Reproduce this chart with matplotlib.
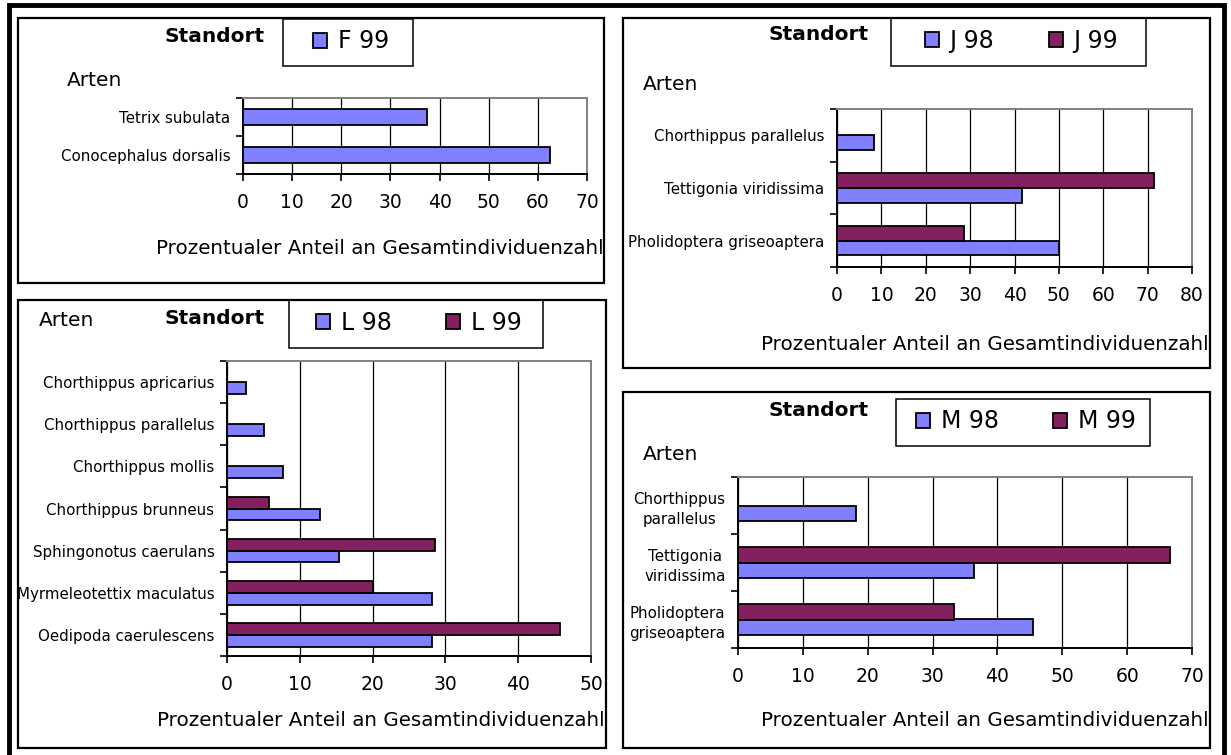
import matplotlib.pyplot as plt
import numpy as np
from matplotlib.patches import Rectangle
from matplotlib.transforms import Bbox, TransformedBbox

plt.rcParams['font.family'] = 'DejaVu Sans'

# species listed bottom -> top, values in % of all individuals at the site
f_arten = ["Conocephalus dorsalis", "Tetrix subulata"]
f_99 = [62.5, 37.5]

j_arten = ["Pholidoptera griseoaptera", "Tettigonia viridissima", "Chorthippus parallelus"]
j_98 = [50.0, 41.67, 8.33]
j_99 = [28.57, 71.43, 0.0]

l_arten = ["Oedipoda caerulescens", "Myrmeleotettix maculatus", "Sphingonotus caerulans",
           "Chorthippus brunneus", "Chorthippus mollis", "Chorthippus parallelus",
           "Chorthippus apricarius"]
l_98 = [28.21, 28.21, 15.38, 12.82, 7.69, 5.13, 2.56]
l_99 = [45.71, 20.0, 28.57, 5.71, 0.0, 0.0, 0.0]

m_arten = ["Pholidoptera\ngriseoaptera", "Tettigonia\nviridissima", "Chorthippus\nparallelus"]
m_98 = [45.45, 36.36, 18.18]
m_99 = [33.33, 66.67, 0.0]

BLUE = '#8080ff'
MAROON = '#842060'
XLABEL = "Prozentualer Anteil an Gesamtindividuenzahl"

W, H = 1231, 755
fig = plt.figure(figsize=(W / 100, H / 100), dpi=100)


def fx(x):
    return x / W


def fy(y):
    return 1 - y / H


def rect_px(l, t, r, b, lw, z=5):
    fig.patches.append(Rectangle((fx(l), fy(b)), (r - l) / W, (b - t) / H,
                                 transform=fig.transFigure, fill=False,
                                 edgecolor='black', linewidth=lw, zorder=z))


def panel(frame, axbox, arten, series, names, xmax, legbox, std_x, std_y,
          arten_xy, xl_xy):
    l, t, r, b = frame
    rect_px(l, t, r, b, 1.6)

    al, at, ar, ab = axbox
    ax = fig.add_axes([fx(al), fy(ab), (ar - al) / W, (ab - at) / H])
    y = np.arange(len(arten))
    colors = [BLUE, MAROON]
    h = 0.4 if len(series) == 1 else 0.28
    handles = []
    for k, vals in enumerate(series):
        off = 0 if len(series) == 1 else (k - 0.5) * h
        bars = ax.barh(y + off, vals, height=h, color=colors[k],
                       edgecolor='black', linewidth=1.3, zorder=3)
        handles.append(bars)

    ax.set_xlim(0, xmax)
    ax.set_ylim(-0.5, len(arten) - 0.5)
    ax.set_xticks(np.arange(0, xmax + 1, 10))
    ax.set_yticks(y)
    ax.set_yticklabels(arten, fontsize=10.8)
    ax.set_yticks(np.arange(len(arten) + 1) - 0.5, minor=True)
    ax.tick_params(axis='y', which='major', length=0, pad=9)
    ax.tick_params(axis='y', which='minor', length=5, width=1.2, direction='out')
    ax.tick_params(axis='x', length=5, width=1.2, direction='out', pad=8.5,
                   labelsize=13.5)
    for lbl in ax.get_yticklabels():
        lbl.set_multialignment('center')
        lbl.set_linespacing(1.45)
    ax.grid(axis='x', color='black', linewidth=0.9, zorder=1)
    ax.set_axisbelow(True)
    for s in ('top', 'right'):
        ax.spines[s].set_color('#808080')
        ax.spines[s].set_linewidth(1.4)
    for s in ('left', 'bottom'):
        ax.spines[s].set_color('black')
        ax.spines[s].set_linewidth(1.4)

    # legend box with the site names
    ll, lt, lr, lb = legbox
    rect_px(ll, lt, lr, lb, 1.1, z=6)
    fig.legend(handles, names, loc='center',
               bbox_to_anchor=(fx((ll + lr) / 2 + 3), fy((lt + lb) / 2 - 1)),
               ncol=len(names), frameon=False, fontsize=17,
               handlelength=0.6, handleheight=0.6, handletextpad=0.45,
               columnspacing=2.3, borderpad=0)

    fig.text(fx(std_x), fy(std_y), "Standort", fontsize=14.5, fontweight='bold',
             ha='center', va='center')
    fig.text(fx(arten_xy[0]), fy(arten_xy[1]), "Arten", fontsize=14.5,
             ha='left', va='center')
    xl = fig.text(fx(xl_xy[0]), fy(xl_xy[1]), XLABEL, fontsize=14.3,
                  ha='left', va='center')
    clip = TransformedBbox(Bbox.from_extents(fx(l), fy(b), fx(r - 1), fy(t)),
                           fig.transFigure)
    xl.set_clip_box(clip)
    xl.set_clip_on(True)
    return ax


# outer frame
fig.patches.append(Rectangle((fx(9), fy(765)), (1224 - 9) / W, (765 - 5) / H,
                             transform=fig.transFigure, fill=False,
                             edgecolor='black', linewidth=3.5, zorder=4))

panel((18, 18, 604, 283), (243, 98, 587, 174), f_arten, [f_99], ["F 99"], 70,
      (283, 19, 413, 66), 215, 37, (67, 81), (156, 249))
panel((623, 18, 1210, 368), (837, 109, 1192, 267), j_arten, [j_98, j_99],
      ["J 98", "J 99"], 80, (891, 18, 1146, 66), 819, 35, (643, 85), (761, 345))
panel((18, 300, 606, 748), (227, 361, 591, 656), l_arten, [l_98, l_99],
      ["L 98", "L 99"], 50, (289, 300, 543, 348), 215, 319, (39, 321), (157, 720))
panel((623, 392, 1210, 748), (738, 477, 1192, 648), m_arten, [m_98, m_99],
      ["M 98", "M 99"], 70, (896, 399, 1150, 446), 819, 410, (643, 454), (761, 720))

fig.savefig("out.png", dpi=100)
